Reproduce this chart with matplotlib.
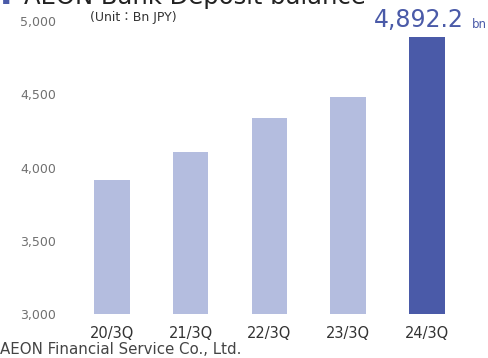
import matplotlib
matplotlib.use("Agg")
from matplotlib import pyplot as plt
from matplotlib.ticker import FuncFormatter

# data
periods = ["20/3Q", "21/3Q", "22/3Q", "23/3Q", "24/3Q"]
deposits = [3915, 4108, 4338, 4482, 4892.2]
y_ticks = [3000, 3500, 4000, 4500, 5000]

LIGHT = "#b4bddf"
DARK = "#4a5aa8"

fig = plt.figure(figsize=(4.89, 3.58), dpi=100)
W, H = 489, 358

# axes placed in pixels: y 3000 at 314px, 5000 at 21px
ax = fig.add_axes([70 / W, (H - 314) / H, (480 - 70) / W, 293 / H])

colors = [LIGHT] * (len(periods) - 1) + [DARK]
x = list(range(len(periods)))
ax.bar(x, deposits, width=0.45, color=colors)

ax.set_ylim(3000, 5000)
ax.set_xlim((70 - 112) / 78.7, (480 - 112) / 78.7)
ax.set_yticks(y_ticks)
ax.yaxis.set_major_formatter(FuncFormatter(lambda v, p: f"{int(v):,}"))
ax.set_xticks(x)
ax.set_xticklabels(periods)
for s in ax.spines.values():
    s.set_visible(False)
ax.tick_params(axis="y", length=0, labelsize=9, labelcolor="#707070", pad=10)
ax.tick_params(axis="x", length=0, labelsize=10.5, labelcolor="#333333", pad=9)

# value label on the last bar
last = len(periods) - 1
ax.annotate(f"{deposits[-1]:,.1f}", xy=(last, deposits[-1]), xytext=(-5.5, 3.5),
            textcoords="offset points", ha="center", va="bottom",
            fontsize=17, color=DARK)
ax.annotate("bn", xy=(last, deposits[-1]), xytext=(38, 4),
            textcoords="offset points", ha="center", va="bottom",
            fontsize=8.5, color=DARK)

# title (cut off at the top in the reference)
fig.text(2 / W, 1 - 4 / H, "▪", fontsize=9, color=DARK, va="baseline")
fig.text(24 / W, 1 - 4 / H, "AEON Bank Deposit balance", fontsize=17.5,
         color="#222222", va="baseline")
fig.text(90 / W, 1 - 17 / H, "(Unit：Bn JPY)", fontsize=9, color="#333333",
         va="center", family=["DejaVu Sans", "Noto Sans CJK JP"])

fig.text(0, 1 - 350 / H, "AEON Financial Service Co., Ltd.", fontsize=10.8,
         color="#444444", va="center")

fig.savefig("out.png", dpi=100)
